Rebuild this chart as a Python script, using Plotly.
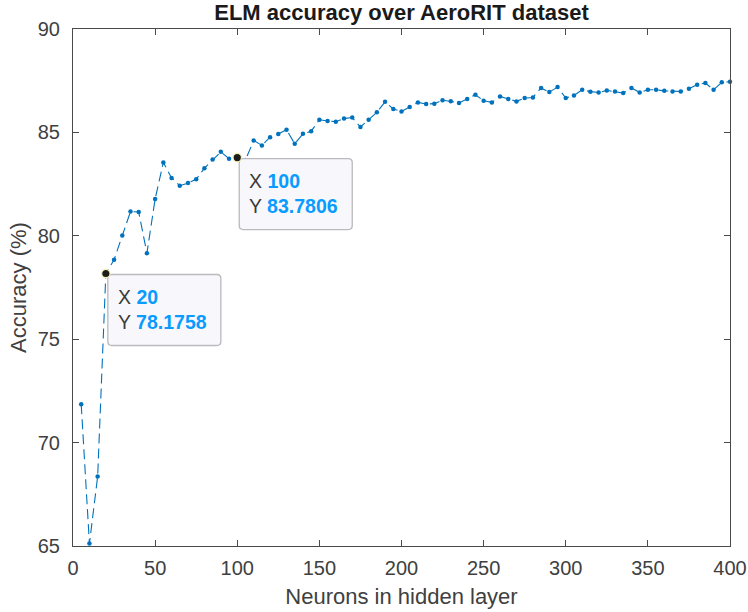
import plotly.graph_objects as go

# Hidden-layer sizes and resulting ELM classification accuracy (%)
neurons = list(range(5, 405, 5))
accuracy = [
    71.85, 65.12, 68.36, 78.1758, 78.84, 80.02, 81.17, 81.15, 79.16, 81.78,
    83.55, 82.80, 82.42, 82.55, 82.73, 83.27, 83.69, 84.06, 83.73, 83.7806,
    83.66, 84.61, 84.37, 84.77, 84.92, 85.13, 84.45, 84.93, 85.06, 85.61,
    85.55, 85.52, 85.67, 85.72, 85.26, 85.61, 85.97, 86.48, 86.13, 86.01,
    86.23, 86.45, 86.37, 86.39, 86.55, 86.51, 86.42, 86.61, 86.82, 86.53,
    86.45, 86.74, 86.61, 86.50, 86.66, 86.69, 87.15, 86.95, 87.19, 86.66,
    86.79, 87.06, 86.97, 86.93, 87.03, 86.98, 86.90, 87.15, 86.93, 87.06,
    87.06, 87.01, 86.98, 86.98, 87.11, 87.31, 87.39, 87.06, 87.42, 87.45,
]

# Points highlighted with data tips
tip_neurons = [20, 100]

x_ticks = list(range(0, 401, 50))
y_ticks = list(range(65, 91, 5))

LINE_BLUE = "#0072BD"
TIP_BLUE = "#0a9bff"
AXIS = "#4a4a4a"
TEXT = "#404040"
FONT = "Liberation Sans, Arial, Helvetica, sans-serif"

fig = go.Figure()
fig.add_trace(go.Scatter(
    x=neurons, y=accuracy,
    mode="lines+markers",
    line=dict(color=LINE_BLUE, width=1.1, dash="10px,5px"),
    marker=dict(color=LINE_BLUE, size=4.5),
    cliponaxis=False,
    hoverinfo="x+y",
    showlegend=False,
))

shapes = []
annotations = []
for xv in tip_neurons:
    yv = accuracy[neurons.index(xv)]
    # tip box, offset to the lower right of the point
    shapes.append(dict(
        type="path", layer="above",
        xref="x", yref="y", xsizemode="pixel", ysizemode="pixel",
        xanchor=xv, yanchor=yv,
        path=("M 6,-1 L 111,-1 Q 115,-1 115,-5 L 115,-68 Q 115,-72 111,-72 "
              "L 6,-72 Q 2,-72 2,-68 L 2,-5 Q 2,-1 6,-1 Z"),
        fillcolor="#f8f8fc", line=dict(color="#b9b9be", width=1.3),
    ))
    # highlighted data point
    shapes.append(dict(
        type="circle", layer="above",
        xref="x", yref="y", xsizemode="pixel", ysizemode="pixel",
        xanchor=xv, yanchor=yv,
        x0=-4.2, x1=4.2, y0=-4.2, y1=4.2,
        fillcolor="#1c1c1c", line=dict(color="#f3eeb4", width=1.2),
    ))
    annotations.append(dict(
        x=xv, y=yv, xref="x", yref="y",
        xanchor="left", yanchor="top", align="left",
        xshift=10, yshift=-10, showarrow=False,
        text=(f"X <b><span style='color:{TIP_BLUE}'>{xv:g}</span></b><br>"
              f"Y <b><span style='color:{TIP_BLUE}'>{yv:g}</span></b>"),
        font=dict(family=FONT, size=19.5, color="#3a3a3a"),
    ))

axis_common = dict(
    showline=True, linecolor=AXIS, linewidth=1.2, mirror="allticks",
    ticks="inside", ticklen=6, tickwidth=1, tickcolor=AXIS,
    showgrid=False, zeroline=False, automargin=False,
    tickfont=dict(family=FONT, size=20, color=TEXT),
)

fig.update_layout(
    width=748, height=612,
    margin=dict(l=73, r=18, t=29, b=66),
    paper_bgcolor="white", plot_bgcolor="white",
    title=dict(
        text="<b>ELM accuracy over AeroRIT dataset</b>",
        font=dict(family=FONT, size=22, color="#1a1a1a"),
        xref="paper", x=0.5, xanchor="center",
        yref="container", y=1 - 12 / 612, yanchor="middle",
    ),
    xaxis=dict(
        range=[0, 400], tickvals=x_ticks,
        title=dict(text="Neurons in hidden layer",
                   font=dict(family=FONT, size=22, color=TEXT), standoff=10),
        ticklabelstandoff=4,
        **axis_common,
    ),
    yaxis=dict(
        range=[65, 90], tickvals=y_ticks,
        title=dict(text="Accuracy (%)",
                   font=dict(family=FONT, size=22, color=TEXT), standoff=4),
        ticklabelstandoff=8,
        **axis_common,
    ),
    shapes=shapes,
    annotations=annotations,
)

fig.write_html("out.html")
